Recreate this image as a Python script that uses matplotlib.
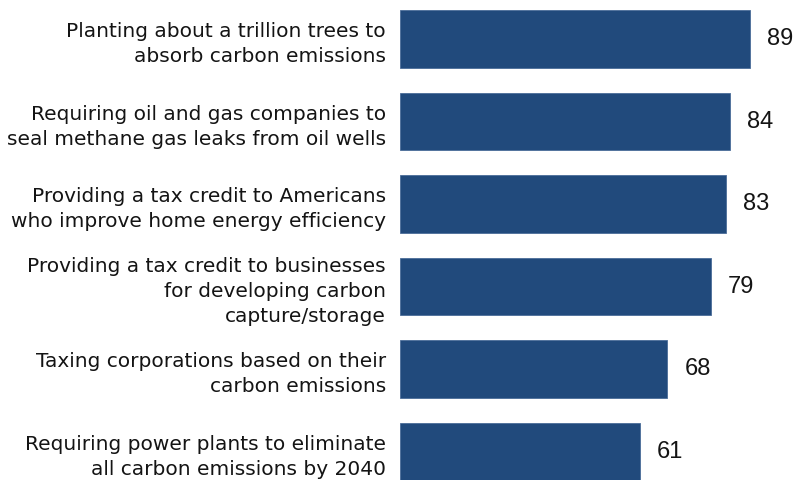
import matplotlib.pyplot as plt
from matplotlib.transforms import offset_copy

plt.rcParams['font.family'] = ['DejaVu Sans']

policies = [
    "Planting about a trillion trees to\nabsorb carbon emissions",
    "Requiring oil and gas companies to\nseal methane gas leaks from oil wells",
    "Providing a tax credit to Americans\nwho improve home energy efficiency",
    "Providing a tax credit to businesses\nfor developing carbon\ncapture/storage",
    "Taxing corporations based on their\ncarbon emissions",
    "Requiring power plants to eliminate\nall carbon emissions by 2040",
]
support = [89, 84, 83, 79, 68, 61]

bar_color = "#214a7c"
text_color = "#141414"

fig = plt.figure(figsize=(8.03, 4.8), dpi=100)
ax = fig.add_axes([400 / 803, 0, 403 / 803, 1])

pos = list(range(len(policies)))
ax.barh(pos, support, height=0.70, color=bar_color,
        edgecolor="#4a6d99", linewidth=0.6)

ax.set_xlim(0, 102.5)
ax.set_ylim(5.345, -0.473)

# value labels just right of each bar
label_tf = offset_copy(ax.transData, fig=fig, x=17, y=0, units="dots")
for p, v in zip(pos, support):
    ax.text(v, p, str(v), transform=label_tf, ha="left", va="center",
            fontsize=17, color=text_color, family="Liberation Sans")

ax.set_yticks(pos)
ax.set_yticklabels(policies, fontsize=14.5, color=text_color,
                   linespacing=1.42)
ax.tick_params(axis="y", length=0, pad=10)
ax.set_xticks([])
for s in ax.spines.values():
    s.set_visible(False)

fig.savefig("out.png", dpi=100)
